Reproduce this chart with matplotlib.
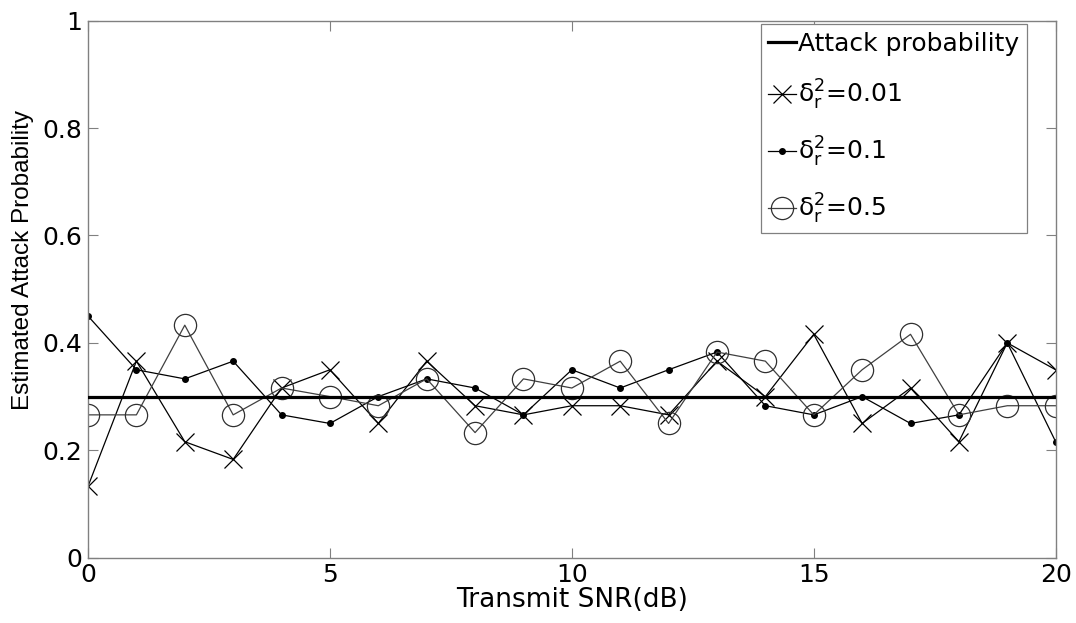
import matplotlib.pyplot as plt
import numpy as np

plt.rcParams['font.family'] = ['DejaVu Sans']
plt.rcParams['mathtext.fontset'] = 'dejavusans'
plt.rcParams['mathtext.default'] = 'regular'

snr = np.arange(0, 21)
attack_prob = 0.3
est_001 = [0.133, 0.366, 0.216, 0.183, 0.316, 0.35, 0.25, 0.366, 0.283, 0.266, 0.283,
           0.283, 0.266, 0.366, 0.3, 0.416, 0.25, 0.316, 0.216, 0.4, 0.35]
est_01 = [0.45, 0.35, 0.333, 0.366, 0.266, 0.25, 0.3, 0.333, 0.316, 0.266, 0.35,
          0.316, 0.35, 0.383, 0.283, 0.266, 0.3, 0.25, 0.266, 0.4, 0.216]
est_05 = [0.266, 0.266, 0.433, 0.266, 0.316, 0.3, 0.283, 0.333, 0.233, 0.333, 0.316,
          0.366, 0.25, 0.383, 0.366, 0.266, 0.35, 0.416, 0.266, 0.283, 0.283]

fig = plt.figure(figsize=(10.76, 6.23), dpi=100)
ax = fig.add_axes([0.0818, 0.1048, 0.8993, 0.862])

ax.plot([snr[0], snr[-1]], [attack_prob, attack_prob], color='black', lw=2.3,
        label='Attack probability', zorder=5)
ax.plot(snr, est_001, color='black', lw=0.9, marker='x', markersize=13,
        markeredgewidth=0.9, label=r'$\delta_r^2$=0.01')
ax.plot(snr, est_01, color='black', lw=0.9, marker='o', markersize=4,
        label=r'$\delta_r^2$=0.1')
ax.plot(snr, est_05, color='#404040', lw=0.9, marker='o', markersize=16,
        markerfacecolor='none', markeredgecolor='#303030', markeredgewidth=0.9,
        label=r'$\delta_r^2$=0.5')

ax.set_xlim(0, 20)
ax.set_ylim(0, 1)
ax.set_xticks([0, 5, 10, 15, 20])
ax.set_yticks([0, 0.2, 0.4, 0.6, 0.8, 1])
ax.set_yticklabels(['0', '0.2', '0.4', '0.6', '0.8', '1'])
ax.tick_params(direction='in', length=7, width=0.8, color='#808080',
               top=True, right=True, labelsize=18, pad=4)
for s in ax.spines.values():
    s.set_color('#808080')
    s.set_linewidth(1.0)

ax.set_xlabel('Transmit SNR(dB)', fontsize=19, labelpad=0)
ax.set_ylabel('Estimated Attack Probability', fontsize=17.5,
              family=['Liberation Sans', 'DejaVu Sans'])
ax.yaxis.set_label_coords(-0.0558, 0.554)

leg = ax.legend(loc='upper right', bbox_to_anchor=(0.9703, 0.9933), fontsize=18,
                fancybox=False, framealpha=1, edgecolor='#808080',
                handlelength=1.1, handletextpad=0.1, borderpad=0.3,
                labelspacing=0.9, borderaxespad=0)
leg.get_frame().set_linewidth(0.9)

fig.savefig('out.png', dpi=100)
